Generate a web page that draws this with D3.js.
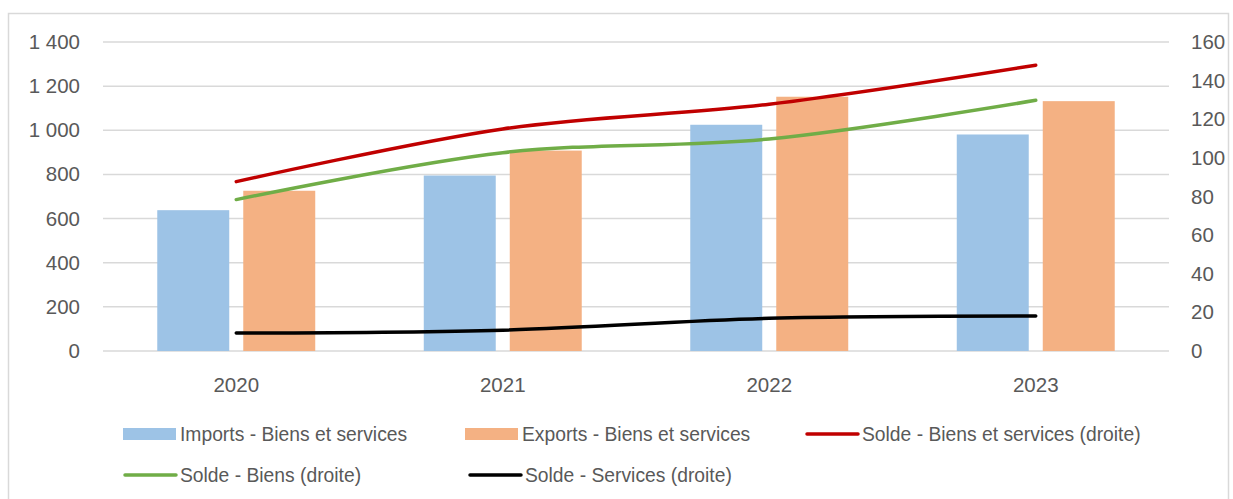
<!DOCTYPE html>
<html>
<head>
<meta charset="utf-8">
<script src="https://cdn.jsdelivr.net/npm/d3@7"></script>
<style>
    body { margin: 0; background: #ffffff; }
    svg text { font-family: "Liberation Sans", Arial, sans-serif; fill: #595959; }
</style>
</head>
<body>
<script>
const years = ["2020", "2021", "2022", "2023"];
const imports = [638, 795, 1025, 981];
const exports = [726, 908, 1152, 1132];
const soldeBiensServices = [87.7, 115, 127.8, 148];
const soldeBiens = [78.4, 102.7, 109.8, 129.8];
const soldeServices = [9.3, 10.8, 16.9, 18.1];
const leftTicks = [0, 200, 400, 600, 800, 1000, 1200, 1400];
const rightTicks = [0, 20, 40, 60, 80, 100, 120, 140, 160];

const barSeries = [
    {name: "Imports - Biens et services", values: imports, color: "#9DC3E6"},
    {name: "Exports - Biens et services", values: exports, color: "#F4B183"}
];
const lineSeries = [
    {name: "Solde - Biens et services (droite)", values: soldeBiensServices, color: "#C00000"},
    {name: "Solde - Biens (droite)", values: soldeBiens, color: "#70AD47"},
    {name: "Solde - Services (droite)", values: soldeServices, color: "#000000"}
];

function generateChart(width = 1233, height = 499){
    const margin = {left: 103, right: 1169, top: 42, bottom: 351};

    const svg = d3.select("body").append("svg")
        .attr("width", width)
        .attr("height", height);

    // outer frame, bottom edge cut off like in the source picture
    svg.append("rect")
        .attr("x", 8.5).attr("y", 13.5)
        .attr("width", 1220).attr("height", 520)
        .style("fill", "none")
        .style("stroke", "#D9D9D9")
        .style("stroke-width", 1.5);

    const x = d3.scaleBand().domain(years).range([margin.left, margin.right]);
    const xInner = d3.scaleBand().domain(barSeries.map(s => s.name))
        .range([0, x.bandwidth()])
        .paddingInner(0.163)
        .paddingOuter(0.631);
    const yLeft = d3.scaleLinear().domain([0, 1400]).range([margin.bottom, margin.top]);
    const yRight = d3.scaleLinear().domain([0, 160]).range([margin.bottom, margin.top]);

    svg.append("g").attr("id", "grid")
        .selectAll("line")
        .data(leftTicks)
        .enter()
        .append("line")
        .attr("x1", margin.left).attr("x2", margin.right)
        .attr("y1", d => yLeft(d)).attr("y2", d => yLeft(d))
        .style("stroke", "#D9D9D9")
        .style("stroke-width", 1.5);

    const fmt = d => d3.format(",")(d).replace(",", " ");
    const leftAxis = svg.append("g")
        .attr("transform", `translate(${margin.left - 23},0)`)
        .call(d3.axisLeft(yLeft).tickValues(leftTicks).tickFormat(fmt).tickSize(0));
    const rightAxis = svg.append("g")
        .attr("transform", `translate(${margin.right + 22},0)`)
        .call(d3.axisRight(yRight).tickValues(rightTicks).tickSize(0));
    const bottomAxis = svg.append("g")
        .attr("transform", `translate(0,${margin.bottom + 23})`)
        .call(d3.axisBottom(x).tickSize(0));
    [leftAxis, rightAxis, bottomAxis].forEach(a => {
        a.select(".domain").remove();
        a.selectAll("text")
            .attr("font-family", null)
            .style("font-size", "20.5px")
            .style("fill", "#595959");
    });
    leftAxis.selectAll("text").attr("x", 0);
    rightAxis.selectAll("text").attr("x", 0);

    const bars = svg.append("g").attr("id", "bars");
    barSeries.forEach(s => {
        bars.append("g")
            .selectAll("rect")
            .data(s.values)
            .enter()
            .append("rect")
            .attr("x", (d, i) => x(years[i]) + xInner(s.name))
            .attr("width", xInner.bandwidth())
            .attr("y", d => yLeft(d))
            .attr("height", d => yLeft(0) - yLeft(d))
            .style("fill", s.color);
    });

    const line = d3.line()
        .x((d, i) => x(years[i]) + x.bandwidth() / 2)
        .y(d => yRight(d))
        .curve(d3.curveCardinal.tension(0));
    const lines = svg.append("g").attr("id", "lines");
    lineSeries.forEach(s => {
        lines.append("path")
            .datum(s.values)
            .attr("d", line)
            .style("fill", "none")
            .style("stroke", s.color)
            .style("stroke-width", 3.5)
            .style("stroke-linecap", "round");
    });

    // legend
    const legendItems = [
        {s: barSeries[0], type: "bar", x: 123, y: 434},
        {s: barSeries[1], type: "bar", x: 465, y: 434},
        {s: lineSeries[0], type: "line", x: 805, y: 434},
        {s: lineSeries[1], type: "line", x: 123, y: 475},
        {s: lineSeries[2], type: "line", x: 468, y: 475}
    ];
    const legend = svg.append("g").attr("id", "legend");
    legendItems.forEach(item => {
        const g = legend.append("g").attr("transform", `translate(${item.x},${item.y})`);
        if(item.type === "bar"){
            g.append("rect")
                .attr("x", 0).attr("y", -6)
                .attr("width", 53).attr("height", 12)
                .style("fill", item.s.color);
        } else {
            g.append("line")
                .attr("x1", 2).attr("x2", 53)
                .attr("y1", 0).attr("y2", 0)
                .style("stroke", item.s.color)
                .style("stroke-width", 3.5)
                .style("stroke-linecap", "round");
        }
        g.append("text")
            .attr("x", 57).attr("y", 0)
            .attr("dy", "0.35em")
            .style("font-size", "19.3px")
            .text(item.s.name);
    });
    return svg;
}

generateChart();
</script>
</body>
</html>
